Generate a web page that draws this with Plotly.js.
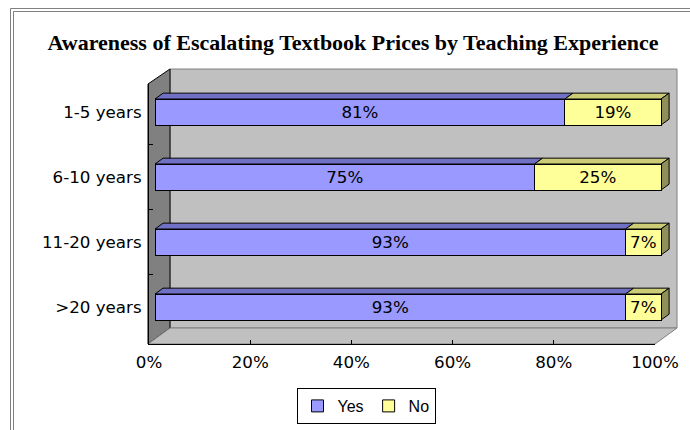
<!DOCTYPE html>
<html>
<head>
<meta charset="utf-8">
<script src="https://cdn.plot.ly/plotly-3.0.1.min.js"></script>
<style>
  html, body { margin: 0; padding: 0; background: #fff; }
  #chart { width: 690px; height: 430px; }
</style>
</head>
<body>
<div id="chart"></div>
<script>
var categories = ['1-5 years', '6-10 years', '11-20 years', '>20 years'];
var yesValues = [81, 75, 93, 93];
var noValues = [19, 25, 7, 7];
var seriesNames = ['Yes', 'No'];
var xTickVals = [0, 20, 40, 60, 80, 100];
var xTickText = ['0%', '20%', '40%', '60%', '80%', '100%'];

var W = 690, H = 430;
// front plane of the fake 3d box, in pixels
var plotTop = 84, plotBottom = 344;
var pxPerUnit = 5.06;
var barWidth = 0.4;
// depth of a bar (top / side faces), in data units
var depthX = 1.6, depthY = 0.09;

var catIndex = categories.map(function (c, i) { return i; });

function px(p) { return p / W; }
function py(p) { return (plotBottom - p) / (plotBottom - plotTop); }

var labelFont = {family: 'DejaVu Sans', size: 16.7, color: '#000'};

var yesTrace = {
    type: 'bar',
    orientation: 'h',
    name: seriesNames[0],
    x: yesValues,
    y: catIndex,
    width: barWidth,
    xaxis: 'x',
    yaxis: 'y',
    text: yesValues.map(function (v) { return v + '%'; }),
    textposition: 'inside',
    insidetextanchor: 'middle',
    textangle: 0,
    constraintext: 'none',
    textfont: labelFont,
    marker: {color: '#9999ff', line: {color: '#000', width: 1}},
    hoverinfo: 'skip'
};

var noTrace = {
    type: 'bar',
    orientation: 'h',
    name: seriesNames[1],
    x: noValues,
    y: catIndex,
    width: barWidth,
    xaxis: 'x',
    yaxis: 'y',
    text: noValues.map(function (v) { return v + '%'; }),
    textposition: 'inside',
    insidetextanchor: 'middle',
    textangle: 0,
    constraintext: 'none',
    textfont: labelFont,
    marker: {color: '#ffff99', line: {color: '#000', width: 1}},
    hoverinfo: 'skip'
};

// carries the percentage scale (ticks sit on the front edge of the floor)
var scaleTrace = {
    type: 'scatter', mode: 'markers', x: [], y: [],
    xaxis: 'x2', yaxis: 'y', showlegend: false, hoverinfo: 'skip'
};

// walls and floor
var shapes = [
    // chart frame (double line, only top and left are on the page)
    {type: 'rect', xref: 'paper', yref: 'paper', x0: px(10.5), x1: px(720), y0: py(8.5), y1: py(460),
        line: {color: '#808080', width: 1}, layer: 'below'},
    {type: 'rect', xref: 'paper', yref: 'paper', x0: px(13.5), x1: px(720), y0: py(11.5), y1: py(460),
        line: {color: '#808080', width: 1}, layer: 'below'},
    // back wall
    {type: 'rect', xref: 'paper', yref: 'paper', x0: px(170), x1: px(677), y0: py(328), y1: py(69),
        fillcolor: '#c0c0c0', line: {color: '#808080', width: 1}, layer: 'below'},
    // side wall
    {type: 'path', xref: 'paper', yref: 'paper',
        path: 'M' + px(148) + ',' + py(84) + ' L' + px(170) + ',' + py(69) + ' L' + px(170) + ',' + py(328) +
              ' L' + px(148) + ',' + py(344) + ' Z',
        fillcolor: '#808080', line: {color: '#000', width: 1}, layer: 'below'},
    // floor
    {type: 'path', xref: 'paper', yref: 'paper',
        path: 'M' + px(148) + ',' + py(344) + ' L' + px(170) + ',' + py(328) + ' L' + px(677) + ',' + py(328) +
              ' L' + px(655) + ',' + py(344) + ' Z',
        fillcolor: '#c0c0c0', line: {color: '#808080', width: 1}, layer: 'below'}
];

// top and side faces of the bars, from the data
function face(x0, x1, yTop, color) {
    return {
        type: 'path', xref: 'x', yref: 'y', layer: 'below',
        path: 'M' + x0 + ',' + yTop + ' L' + (x0 + depthX) + ',' + (yTop - depthY) +
              ' L' + (x1 + depthX) + ',' + (yTop - depthY) + ' L' + x1 + ',' + yTop + ' Z',
        fillcolor: color, line: {color: '#000', width: 1}
    };
}
catIndex.forEach(function (i) {
    var yTop = i - barWidth / 2, yBot = i + barWidth / 2;
    var total = yesValues[i] + noValues[i];
    shapes.push(face(0, yesValues[i], yTop, '#7070c4'));
    shapes.push(face(yesValues[i], total, yTop, '#cccc77'));
    shapes.push({
        type: 'path', xref: 'x', yref: 'y', layer: 'below',
        path: 'M' + total + ',' + yTop + ' L' + (total + depthX) + ',' + (yTop - depthY) +
              ' L' + (total + depthX) + ',' + (yBot - depthY) + ' L' + total + ',' + yBot + ' Z',
        fillcolor: '#8f8f5a', line: {color: '#000', width: 1}
    });
});

var yTopVal = -(112 - plotTop) / 65;
var yBotVal = (plotBottom - 112) / 65;

var layout = {
    width: W,
    height: H,
    margin: {l: 0, r: 0, t: plotTop, b: H - plotBottom, pad: 0},
    paper_bgcolor: '#fff',
    plot_bgcolor: 'rgba(0,0,0,0)',
    barmode: 'stack',
    showlegend: true,
    title: {
        text: '<b>Awareness of Escalating Textbook Prices by Teaching Experience</b>',
        font: {family: 'Liberation Serif', size: 22, color: '#000'},
        x: 353 / W, xanchor: 'center',
        y: 1 - 42 / H, yanchor: 'middle'
    },
    xaxis: {
        domain: [px(155), px(155 + 105 * pxPerUnit)],
        range: [0, 105],
        anchor: 'y',
        visible: false,
        fixedrange: true
    },
    xaxis2: {
        domain: [px(149), px(149 + 100 * pxPerUnit)],
        range: [0, 100],
        anchor: 'y',
        tickmode: 'array',
        tickvals: xTickVals,
        ticktext: xTickText,
        ticks: 'inside',
        ticklen: 4,
        tickcolor: '#000',
        showline: true,
        linecolor: '#000',
        linewidth: 1,
        showgrid: false,
        zeroline: false,
        tickfont: labelFont,
        ticklabelstandoff: 3
    },
    yaxis: {
        domain: [0, 1],
        range: [yBotVal, yTopVal],
        anchor: 'x2',
        tickmode: 'array',
        tickvals: catIndex,
        ticktext: categories,
        ticks: '',
        showline: true,
        linecolor: '#000',
        linewidth: 1,
        showgrid: false,
        zeroline: false,
        tickfont: labelFont,
        ticklabelstandoff: 3,
        minor: {tickvals: [0.5, 1.5, 2.5], ticks: 'inside', ticklen: 4, tickcolor: '#000', showgrid: false}
    },
    legend: {
        orientation: 'h',
        x: 366 / W, xanchor: 'center',
        y: py(388), yanchor: 'top',
        bgcolor: '#fff',
        bordercolor: '#000',
        borderwidth: 1,
        font: {family: 'Liberation Sans', size: 16, color: '#000'},
        traceorder: 'normal'
    },
    shapes: shapes
};

Plotly.newPlot('chart', [yesTrace, noTrace, scaleTrace], layout, {displayModeBar: false, staticPlot: true});
</script>
</body>
</html>
